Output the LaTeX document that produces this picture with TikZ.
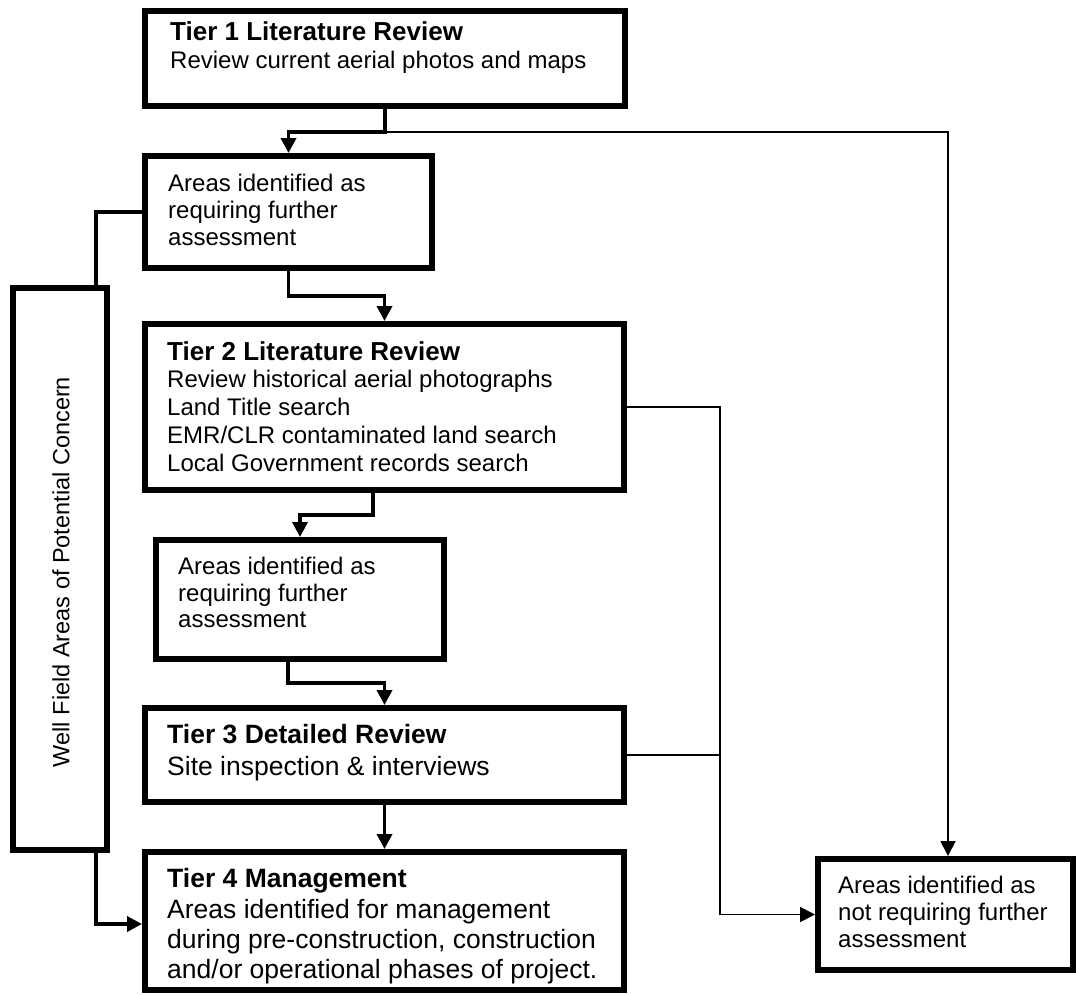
\documentclass[tikz,border=0pt]{standalone}
\usepackage{fontspec}
\setmainfont{Liberation Sans}
\usetikzlibrary{arrows.meta}
\begin{document}
\begin{tikzpicture}[x=1pt,y=-1pt,
  box/.style={draw, line width=6pt, inner sep=0pt},
  conn/.style={line width=3.5pt},
  thinconn/.style={line width=1.8pt},
  tip/.style={-{Triangle[length=15pt,width=15pt]}},
  body/.style={anchor=base west, inner sep=0pt, font=\fontsize{24}{28}\selectfont},
  ttl/.style={anchor=base west, inner sep=0pt, font=\fontsize{26}{30}\selectfont\bfseries},
  bigbody/.style={anchor=base west, inner sep=0pt, font=\fontsize{26.5}{30}\selectfont},
  bigttl/.style={anchor=base west, inner sep=0pt, font=\fontsize{26.5}{30}\selectfont\bfseries}
]
\useasboundingbox (0,0) rectangle (1076,994);

% boxes
\node[box, minimum width=480pt, minimum height=95pt] (b1) at (385,58.5) {};
\node[box, minimum width=287pt, minimum height=112pt] (b2) at (288.5,212) {};
\node[box, minimum width=94pt, minimum height=562pt] (v) at (60,569) {};
\node[box, minimum width=479pt, minimum height=166pt] (b3) at (384.5,407) {};
\node[box, minimum width=288pt, minimum height=119pt] (b4) at (300,599.5) {};
\node[box, minimum width=479pt, minimum height=94pt] (b5) at (384.5,755) {};
\node[box, minimum width=479pt, minimum height=138pt] (b6) at (384.5,921) {};
\node[box, minimum width=255pt, minimum height=111pt] (b7) at (945.5,914.5) {};

% texts
\node[ttl] (t1a) at (170,40) {Tier 1 Literature Review};
\node[body] (t1b) at (170,68) {Review current aerial photos and maps};

\node[body] (t2a) at (168,191) {Areas identified as};
\node[body] (t2b) at (168,218) {requiring further};
\node[body] (t2c) at (168,245) {assessment};

\node[ttl] (t3a) at (167,360) {Tier 2 Literature Review};
\node[body] (t3b) at (167,387) {Review historical aerial photographs};
\node[body] (t3c) at (167,415) {Land Title search};
\node[body] (t3d) at (167,443) {EMR/CLR contaminated land search};
\node[body] (t3e) at (167,471) {Local Government records search};

\node[body] (t4a) at (178,574) {Areas identified as};
\node[body] (t4b) at (178,601) {requiring further};
\node[body] (t4c) at (178,627) {assessment};

\node[bigttl] (t5a) at (167,743) {Tier 3 Detailed Review};
\node[bigbody] (t5b) at (167,775) {Site inspection \& interviews};

\node[bigttl] (t6a) at (167,887) {Tier 4 Management};
\node[bigbody] (t6b) at (167,918) {Areas identified for management};
\node[bigbody] (t6c) at (167,948) {during pre-construction, construction};
\node[bigbody] (t6d) at (167,978) {and/or operational phases of project.};

\node[body] (t7a) at (838,893) {Areas identified as};
\node[body] (t7b) at (838,920) {not requiring further};
\node[body] (t7c) at (838,947) {assessment};

\node[rotate=90, inner sep=0pt, font=\fontsize{23.5}{28}\selectfont] (tv) at (61,572) {Well Field Areas of Potential Concern};

% connectors
\coordinate (j1) at (385,132);
\coordinate (j2) at (720,755);
\draw[conn,tip] (b1.south) -- (j1) -| (b2.north);
\draw[thinconn,tip] (j1) -| ([xshift=2.5pt]b7.north);
\draw[conn] (b2.west) -| ([xshift=36pt]v.north);
\draw[conn,tip] (b2.south) -- ++(0,25) -| (b3.north);
\draw[conn,tip] ([xshift=-11.5pt]b3.south) -- ++(0,22) -| (b4.north);
\draw[conn,tip] ([xshift=-12pt]b4.south) -- ++(0,21) -| (b5.north);
\draw[conn,tip] (b5.south) -- (b6.north);
\draw[conn,tip] ([xshift=36pt]v.south) |- ([yshift=-3pt]b6.west);
\draw[thinconn,tip] (b3.east) -| (j2) |- (b7.west);
\draw[thinconn] (b5.east) -- (j2);
\end{tikzpicture}
\end{document}
